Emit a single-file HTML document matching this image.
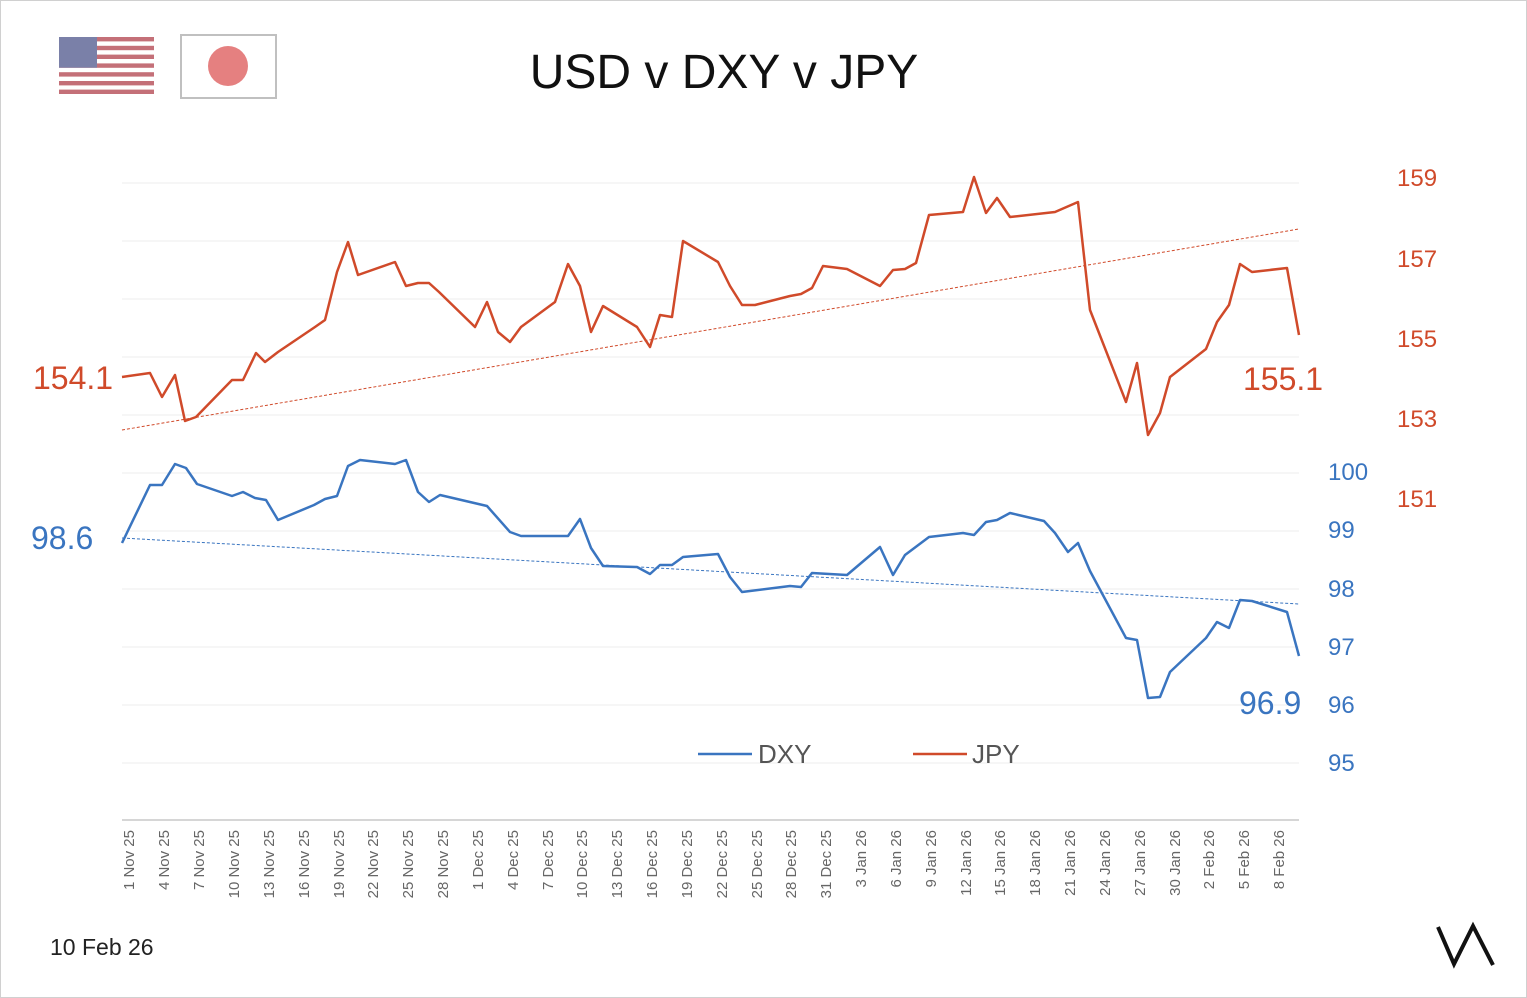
<!DOCTYPE html>
<html><head><meta charset="utf-8"><style>
html,body{margin:0;padding:0;background:#fff}
svg{display:block}
text{font-family:"Liberation Sans","DejaVu Sans",sans-serif}
</style></head><body>
<svg width="1527" height="998" viewBox="0 0 1527 998" xmlns="http://www.w3.org/2000/svg">
<rect x="0.5" y="0.5" width="1526" height="997" fill="#fff" stroke="#d0d0d0"/>
<g>
<rect x="59" y="37" width="95" height="57" fill="#fff"/>
<g fill="#c47078">
<rect x="59" y="37" width="95" height="4.4"/><rect x="59" y="45.8" width="95" height="4.4"/><rect x="59" y="54.6" width="95" height="4.4"/><rect x="59" y="63.4" width="95" height="4.4"/><rect x="59" y="72.2" width="95" height="4.4"/><rect x="59" y="81" width="95" height="4.4"/><rect x="59" y="89.6" width="95" height="4.4"/>
</g>
<rect x="59" y="37" width="38" height="30.7" fill="#7a80a8"/>
</g>
<rect x="181" y="35" width="95" height="63" fill="#fff" stroke="#c0c0c0" stroke-width="2"/>
<circle cx="228" cy="66" r="20" fill="#e58080"/>
<text x="724" y="88" font-size="48" text-anchor="middle" fill="#111">USD v DXY v JPY</text>
<g stroke="#eeeeee" stroke-width="1">
<line x1="122" y1="183" x2="1299" y2="183"/><line x1="122" y1="241" x2="1299" y2="241"/><line x1="122" y1="299" x2="1299" y2="299"/><line x1="122" y1="357" x2="1299" y2="357"/><line x1="122" y1="415" x2="1299" y2="415"/><line x1="122" y1="473" x2="1299" y2="473"/><line x1="122" y1="531" x2="1299" y2="531"/><line x1="122" y1="589" x2="1299" y2="589"/><line x1="122" y1="647" x2="1299" y2="647"/><line x1="122" y1="705" x2="1299" y2="705"/><line x1="122" y1="763" x2="1299" y2="763"/>
</g>
<line x1="122" y1="820" x2="1299" y2="820" stroke="#d6d6d6" stroke-width="2"/>
<line x1="122" y1="430" x2="1299" y2="229" stroke="#d04a2a" stroke-width="1" stroke-dasharray="3,2"/>
<line x1="122" y1="538" x2="1299" y2="604" stroke="#3a75c0" stroke-width="1" stroke-dasharray="3,2"/>
<polyline fill="none" stroke="#d04a2a" stroke-width="2.5" stroke-linejoin="round" points="122,377 150,373 162,397 175,375 185,421 196,417 232,380 243,380 256,353 265,362 278,352 315,327 325,320 337,272 348,242 358,275 395,262 406,286 418,283 429,283 439,292 475,327 487,302 498,332 510,342 521,327 555,302 568,264 580,286 591,332 603,306 637,327 650,347 660,315 672,317 683,241 718,262 730,286 742,305 755,305 790,296 801,294 812,288 823,266 847,269 880,286 893,270 905,269 916,263 929,215 963,212 974,177 986,213 997,198 1010,217 1055,212 1078,202 1090,310 1126,402 1137,363 1148,435 1160,413 1170,377 1206,349 1217,322 1229,305 1240,264 1252,272 1287,268 1299,335"/>
<polyline fill="none" stroke="#3a75c0" stroke-width="2.5" stroke-linejoin="round" points="122,543 150,485 162,485 175,464 186,468 197,484 232,496 243,492 255,498 266,500 278,520 314,505 325,499 337,496 348,466 360,460 395,464 406,460 418,492 429,502 440,495 487,506 510,532 521,536 568,536 580,519 591,548 603,566 637,567 650,574 660,565 672,565 683,557 718,554 730,577 742,592 790,586 801,587 812,573 847,575 880,547 893,575 905,555 929,537 963,533 974,535 986,522 997,520 1010,513 1044,521 1055,533 1068,552 1078,543 1090,571 1126,638 1137,640 1148,698 1160,697 1170,672 1206,638 1217,622 1229,628 1240,600 1252,601 1287,612 1299,656"/>
<g fill="#d04a2a" font-size="24">
<text x="1397" y="186">159</text><text x="1397" y="267">157</text><text x="1397" y="347">155</text><text x="1397" y="427">153</text><text x="1397" y="507">151</text>
</g>
<g fill="#3a75c0" font-size="24">
<text x="1328" y="480">100</text><text x="1328" y="538">99</text><text x="1328" y="597">98</text><text x="1328" y="655">97</text><text x="1328" y="713">96</text><text x="1328" y="771">95</text>
</g>
<text x="33" y="389" font-size="32" fill="#d04a2a">154.1</text>
<text x="1243" y="390" font-size="32" fill="#d04a2a">155.1</text>
<text x="31" y="549" font-size="32" fill="#3a75c0">98.6</text>
<text x="1239" y="714" font-size="32" fill="#3a75c0">96.9</text>
<line x1="698" y1="754" x2="752" y2="754" stroke="#3a75c0" stroke-width="2.5"/>
<text x="758" y="763" font-size="26" fill="#555">DXY</text>
<line x1="913" y1="754" x2="967" y2="754" stroke="#d04a2a" stroke-width="2.5"/>
<text x="972" y="763" font-size="26" fill="#555">JPY</text>
<g fill="#666" font-size="15" text-anchor="end">
<text transform="translate(134,830) rotate(-90)">1 Nov 25</text>
<text transform="translate(169,830) rotate(-90)">4 Nov 25</text>
<text transform="translate(204,830) rotate(-90)">7 Nov 25</text>
<text transform="translate(239,830) rotate(-90)">10 Nov 25</text>
<text transform="translate(274,830) rotate(-90)">13 Nov 25</text>
<text transform="translate(309,830) rotate(-90)">16 Nov 25</text>
<text transform="translate(344,830) rotate(-90)">19 Nov 25</text>
<text transform="translate(378,830) rotate(-90)">22 Nov 25</text>
<text transform="translate(413,830) rotate(-90)">25 Nov 25</text>
<text transform="translate(448,830) rotate(-90)">28 Nov 25</text>
<text transform="translate(483,830) rotate(-90)">1 Dec 25</text>
<text transform="translate(518,830) rotate(-90)">4 Dec 25</text>
<text transform="translate(553,830) rotate(-90)">7 Dec 25</text>
<text transform="translate(587,830) rotate(-90)">10 Dec 25</text>
<text transform="translate(622,830) rotate(-90)">13 Dec 25</text>
<text transform="translate(657,830) rotate(-90)">16 Dec 25</text>
<text transform="translate(692,830) rotate(-90)">19 Dec 25</text>
<text transform="translate(727,830) rotate(-90)">22 Dec 25</text>
<text transform="translate(762,830) rotate(-90)">25 Dec 25</text>
<text transform="translate(796,830) rotate(-90)">28 Dec 25</text>
<text transform="translate(831,830) rotate(-90)">31 Dec 25</text>
<text transform="translate(866,830) rotate(-90)">3 Jan 26</text>
<text transform="translate(901,830) rotate(-90)">6 Jan 26</text>
<text transform="translate(936,830) rotate(-90)">9 Jan 26</text>
<text transform="translate(971,830) rotate(-90)">12 Jan 26</text>
<text transform="translate(1005,830) rotate(-90)">15 Jan 26</text>
<text transform="translate(1040,830) rotate(-90)">18 Jan 26</text>
<text transform="translate(1075,830) rotate(-90)">21 Jan 26</text>
<text transform="translate(1110,830) rotate(-90)">24 Jan 26</text>
<text transform="translate(1145,830) rotate(-90)">27 Jan 26</text>
<text transform="translate(1180,830) rotate(-90)">30 Jan 26</text>
<text transform="translate(1214,830) rotate(-90)">2 Feb 26</text>
<text transform="translate(1249,830) rotate(-90)">5 Feb 26</text>
<text transform="translate(1284,830) rotate(-90)">8 Feb 26</text>
</g>
<text x="50" y="955" font-size="23" fill="#222">10 Feb 26</text>
<path d="M1438,927 L1454,964 L1473,926 L1493,965" fill="none" stroke="#111" stroke-width="4" stroke-linejoin="miter"/>
</svg>
</body></html>
